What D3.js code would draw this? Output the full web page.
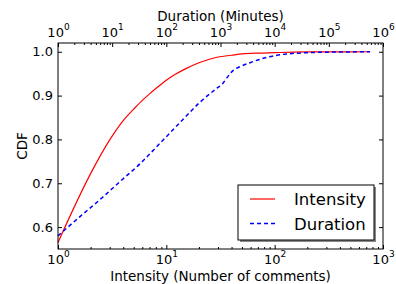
<!DOCTYPE html>
<html lang="en">
<head>
<meta charset="utf-8">
<script src="https://cdn.jsdelivr.net/npm/d3@7"></script>
<style>
  body { margin: 0; background: #fff; }
  svg text { font-family: "DejaVu Sans", sans-serif; fill: #000; }
</style>
</head>
<body>
<script>
  // Intensity (bottom axis, number of comments)
  var intensityX   = [1, 2, 3, 4, 5, 6, 7, 8, 10, 12, 15, 20, 25, 30, 40, 50, 70, 100, 150, 200, 300, 500, 760];
  var intensityCdf = [0.565, 0.722, 0.799, 0.843, 0.869, 0.889, 0.904, 0.916, 0.935, 0.948, 0.961, 0.975, 0.983, 0.988, 0.992, 0.995, 0.997, 0.998, 0.9992, 0.9996, 0.9998, 0.9999, 1.0];

  // Duration (top axis, minutes)
  var durationX   = [1, 2.55, 6, 14, 33, 76, 180, 420, 860, 1070, 1320, 1700, 2300, 3500, 7100, 16600, 60000, 200000, 575000];
  var durationCdf = [0.58, 0.624, 0.663, 0.704, 0.745, 0.791, 0.839, 0.885, 0.917, 0.926, 0.941, 0.957, 0.966, 0.975, 0.987, 0.995, 0.9986, 0.9995, 1.0];

  var yTicks = [0.6, 0.7, 0.8, 0.9, 1.0];
  var bottomMajor = [1, 10, 100, 1000];
  var topMajor = [1, 10, 100, 1000, 10000, 100000, 1000000];

  var w = 396, h = 284;
  var m = { left: 58, right: 13, top: 43, bottom: 35 };

  var x = d3.scaleLog().domain([1, 1000]).range([m.left, w - m.right]);
  var xTop = d3.scaleLog().domain([1, 1e6]).range([m.left, w - m.right]);
  var y = d3.scaleLinear().domain([0.55, 1.02]).range([h - m.bottom, m.top]);

  function minors(lo, hi) {
    var out = [];
    for (var e = lo; e < hi; e++)
      for (var k = 2; k < 10; k++) out.push(k * Math.pow(10, e));
    return out;
  }

  var svg = d3.select("body").append("svg")
    .attr("width", w)
    .attr("height", h);

  function supLabels(sel) {
    sel.selectAll(".tick text").each(function(d) {
      var t = d3.select(this).text("");
      t.append("tspan").text("10");
      t.append("tspan").attr("dy", -7).style("font-size", "9px").text(Math.round(Math.log10(d)));
    });
  }

  // bottom axis
  var gb = svg.append("g").attr("transform", "translate(0," + (h - m.bottom) + ")");
  gb.append("g").call(d3.axisBottom(x).tickValues(minors(0, 3)).tickSize(-2).tickFormat(""));
  gb.append("g").call(d3.axisBottom(x).tickValues(bottomMajor).tickSizeInner(-4).tickSizeOuter(0).tickPadding(6))
    .call(supLabels);

  // top axis
  var gt = svg.append("g").attr("transform", "translate(0," + m.top + ")");
  gt.append("g").call(d3.axisTop(xTop).tickValues(minors(0, 6)).tickSize(-2).tickFormat(""));
  gt.append("g").call(d3.axisTop(xTop).tickValues(topMajor).tickSizeInner(-4).tickSizeOuter(0).tickPadding(6))
    .call(supLabels);

  // left / right axes
  svg.append("g").attr("transform", "translate(" + m.left + ",0)")
    .call(d3.axisLeft(y).tickValues(yTicks).tickSizeInner(-4).tickSizeOuter(0).tickPadding(5).tickFormat(d3.format(".1f")));
  svg.append("g").attr("transform", "translate(" + (w - m.right) + ",0)")
    .call(d3.axisRight(y).tickValues(yTicks).tickSizeInner(-4).tickSizeOuter(0).tickFormat(""));

  svg.selectAll(".domain").remove();
  svg.selectAll(".tick line").attr("stroke", "#000");
  svg.selectAll(".tick text").style("font-size", "13px").attr("fill", "#000");
  svg.selectAll(".tick text tspan:last-child").style("font-size", "9px");

  // curves
  svg.append("path")
    .datum(intensityX.map((v, i) => [v, intensityCdf[i]]))
    .attr("fill", "none")
    .attr("stroke", "#ff0000")
    .attr("stroke-width", 1.2)
    .attr("d", d3.line().x(d => x(d[0])).y(d => y(d[1])).curve(d3.curveMonotoneX));

  svg.append("path")
    .datum(durationX.map((v, i) => [v, durationCdf[i]]))
    .attr("fill", "none")
    .attr("stroke", "#0000ff")
    .attr("stroke-width", 1.5)
    .attr("stroke-dasharray", "4,3")
    .attr("d", d3.line().x(d => xTop(d[0])).y(d => y(d[1])).curve(d3.curveMonotoneX));

  // frame
  svg.append("rect")
    .attr("x", m.left).attr("y", m.top)
    .attr("width", w - m.left - m.right).attr("height", h - m.top - m.bottom)
    .attr("fill", "none").attr("stroke", "#000").attr("stroke-width", 1);

  // axis labels
  svg.append("text").attr("x", (m.left + w - m.right) / 2).attr("y", 281)
    .attr("text-anchor", "middle").style("font-size", "13.5px")
    .text("Intensity (Number of comments)");
  svg.append("text").attr("x", (m.left + w - m.right) / 2).attr("y", 20.5)
    .attr("text-anchor", "middle").style("font-size", "13.5px")
    .text("Duration (Minutes)");
  svg.append("text").attr("transform", "translate(27," + ((m.top + h - m.bottom) / 2) + ") rotate(-90)")
    .attr("text-anchor", "middle").style("font-size", "13.5px")
    .text("CDF");

  // legend
  var lg = svg.append("g");
  lg.append("rect").attr("x", 240).attr("y", 187).attr("width", 136).attr("height", 55).attr("fill", "#888");
  lg.append("rect").attr("x", 238).attr("y", 185).attr("width", 136).attr("height", 55)
    .attr("fill", "#fff").attr("stroke", "#000").attr("stroke-width", 1);
  var items = [["Intensity", "#ff0000", null, 1.2], ["Duration", "#0000ff", "4,3", 1.5]];
  items.forEach(function(it, i) {
    var ly = 199 + i * 24.5;
    lg.append("line").attr("x1", 250).attr("x2", 275).attr("y1", ly).attr("y2", ly)
      .attr("stroke", it[1]).attr("stroke-width", it[3]).attr("stroke-dasharray", it[2]);
    lg.append("text").attr("x", 294).attr("y", ly + 6).style("font-size", "16.5px").text(it[0]);
  });
</script>
</body>
</html>
